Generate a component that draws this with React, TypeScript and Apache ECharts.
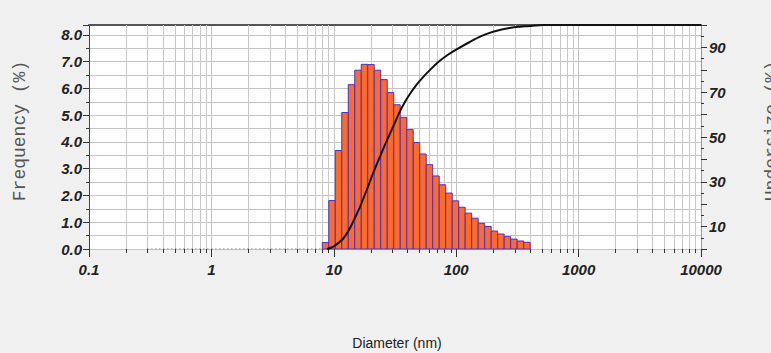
import React, { useEffect, useRef } from 'react';
import * as echarts from 'echarts';

// Histogram bin edges (nm) and frequency (%) per bin
const binEdges = [8.05, 9.1, 10.28, 11.62, 13.13, 14.83, 16.76, 18.94, 21.4, 24.18, 27.33, 30.88, 34.89, 39.43, 44.55, 50.35, 56.89, 64.29, 72.64, 82.09, 92.76, 104.8, 118.4, 133.8, 151.2, 170.9, 193.1, 218.2, 246.6, 278.6, 314.8, 355.8, 402.0];
const frequency = [0.24, 1.81, 3.68, 5.10, 6.14, 6.68, 6.90, 6.89, 6.68, 6.33, 5.85, 5.39, 4.92, 4.46, 3.98, 3.55, 3.15, 2.73, 2.40, 2.09, 1.80, 1.56, 1.34, 1.15, 0.96, 0.84, 0.67, 0.56, 0.46, 0.37, 0.30, 0.25];

// Cumulative undersize curve
const undersizeDiam = [8.8, 10, 11.9, 13.3, 14.8, 16.5, 18.4, 20.5, 22.9, 25.6, 28.5, 31.5, 34.4, 38, 41.6, 47, 53.4, 62, 73.1, 85, 100, 128, 160, 200, 272, 400, 520, 10000];
const undersizeVal = [0, 1.2, 4.6, 8.5, 13.6, 19.3, 25.8, 32.5, 39, 45.3, 51, 56.3, 61, 65.5, 69, 73, 76.6, 80.3, 83.9, 86.6, 89.0, 92.3, 95, 97, 98.7, 99.6, 100, 100];

// Dotted baseline segment (zero-frequency region)
const zeroDiam = [0.3, 8.05];
const zeroVal = [0, 0];

// Tick labels
const xTickLabels = ['0.1', '1', '10', '100', '1000', '10000'];
const xMin = 0.1;
const xMax = 10000;
const yLeftMax = 8.37;
const yRightMax = 100;

const FONT = "'Liberation Sans', Arial, sans-serif";

export default function App() {
  const ref = useRef<HTMLDivElement>(null);

  useEffect(() => {
    if (!ref.current) return;
    const chart = echarts.init(ref.current, undefined, { renderer: 'svg' });

    const minorTicks: number[][] = [];
    for (let e = -1; e < 4; e++) {
      for (let k = 2; k <= 9; k++) {
        minorTicks.push([k * Math.pow(10, e), 0]);
      }
    }

    const bars = frequency.map((f, i) => [binEdges[i], binEdges[i + 1], f]);
    const curve = undersizeDiam.map((d, i) => [d, undersizeVal[i]]);
    const zeroLine = zeroDiam.map((d, i) => [d, zeroVal[i]]);

    const labelStyle = {
      fontFamily: FONT,
      fontSize: 15,
      fontWeight: 'bold' as const,
      fontStyle: 'italic' as const,
      color: '#222',
    };

    const option: any = {
      animation: false,
      backgroundColor: '#f0f0f0',
      grid: {
        left: 89,
        right: 70,
        top: 25,
        bottom: 104,
        show: true,
        backgroundColor: '#ffffff',
        borderWidth: 0,
      },
      xAxis: [
        {
          type: 'log',
          logBase: 10,
          min: xMin,
          max: xMax,
          axisLine: { show: false },
          axisTick: { show: true, length: 8, lineStyle: { color: '#333' } },
          axisLabel: {
            ...labelStyle,
            margin: 13,
            formatter: (v: number) => {
              const e = Math.round(Math.log10(v));
              return xTickLabels[e + 1] ?? '';
            },
          },
          splitLine: { show: true, lineStyle: { color: '#c4c4c4', width: 1 } },
        },
        {
          type: 'log',
          logBase: 10,
          min: xMin,
          max: xMax,
          position: 'top',
          axisLine: { show: true, onZero: false, lineStyle: { color: '#555', width: 2 } },
          axisTick: { show: false },
          axisLabel: { show: false },
          splitLine: { show: false },
        },
      ],
      yAxis: [
        {
          type: 'value',
          min: 0,
          max: yLeftMax,
          interval: 1,
          position: 'left',
          axisLine: { show: true, lineStyle: { color: '#444' } },
          axisTick: { show: true, length: 6, lineStyle: { color: '#333' } },
          minorTick: { show: true, splitNumber: 2, length: 3, lineStyle: { color: '#333' } },
          minorSplitLine: { show: true, lineStyle: { color: '#c4c4c4' } },
          splitLine: { show: true, lineStyle: { color: '#c4c4c4' } },
          axisLabel: {
            ...labelStyle,
            margin: 7,
            formatter: (v: number) => (Number.isInteger(v) ? v.toFixed(1) : ''),
          },
        },
        {
          type: 'value',
          min: 0,
          max: yRightMax,
          interval: 10,
          position: 'right',
          axisLine: { show: true, lineStyle: { color: '#999' } },
          axisTick: { show: true, length: 6, lineStyle: { color: '#333' } },
          minorTick: { show: true, splitNumber: 2, length: 3, lineStyle: { color: '#333' } },
          splitLine: { show: false },
          axisLabel: {
            ...labelStyle,
            margin: 8,
            formatter: (v: number) => ((v / 10) % 2 === 1 ? String(v) : ''),
          },
        },
      ],
      series: [
        {
          type: 'custom',
          name: 'minorGrid',
          xAxisIndex: 0,
          yAxisIndex: 0,
          z: 1,
          clip: false,
          silent: true,
          data: minorTicks,
          encode: { x: 0, y: 1 },
          renderItem: (_p: any, api: any) => {
            const v = api.value(0);
            const top = api.coord([v, yLeftMax]);
            const bot = api.coord([v, 0]);
            const x = Math.round(bot[0]) + 0.5;
            return {
              type: 'group',
              children: [
                {
                  type: 'line',
                  shape: { x1: x, y1: top[1], x2: x, y2: bot[1] },
                  style: { stroke: '#c8c8c8', lineWidth: 1 },
                },
                {
                  type: 'line',
                  shape: { x1: x, y1: bot[1], x2: x, y2: bot[1] + 4 },
                  style: { stroke: '#333', lineWidth: 1 },
                },
              ],
            };
          },
        },
        {
          type: 'line',
          name: 'zero',
          xAxisIndex: 0,
          yAxisIndex: 0,
          z: 2,
          data: zeroLine,
          showSymbol: false,
          lineStyle: { color: '#444', width: 1, type: [1, 3] },
        },
        {
          type: 'custom',
          name: 'Frequency',
          xAxisIndex: 0,
          yAxisIndex: 0,
          z: 3,
          data: bars,
          encode: { x: [0, 1], y: 2 },
          renderItem: (_p: any, api: any) => {
            const p0 = api.coord([api.value(0), api.value(2)]);
            const p1 = api.coord([api.value(1), 0]);
            return {
              type: 'rect',
              shape: { x: p0[0], y: p0[1], width: p1[0] - p0[0], height: p1[1] - p0[1] },
              style: { fill: '#fe6a2a', stroke: '#4a30c4', lineWidth: 1 },
            };
          },
        },
        {
          type: 'line',
          name: 'Undersize',
          xAxisIndex: 0,
          yAxisIndex: 1,
          z: 4,
          data: curve,
          smooth: 0.35,
          showSymbol: false,
          lineStyle: { color: '#111', width: 2 },
        },
      ],
      graphic: [
        {
          type: 'text',
          x: 20,
          y: 131,
          rotation: Math.PI / 2,
          style: {
            text: 'Frequency (%)',
            font: "18px 'Liberation Mono', 'Courier New', monospace",
            fill: '#555',
            align: 'center',
            verticalAlign: 'middle',
          },
        },
        {
          type: 'text',
          x: 772,
          y: 131,
          rotation: Math.PI / 2,
          style: {
            text: 'Undersize (%)',
            font: "18px 'Liberation Mono', 'Courier New', monospace",
            fill: '#555',
            align: 'center',
            verticalAlign: 'middle',
          },
        },
        {
          type: 'text',
          x: 397,
          y: 343,
          style: {
            text: 'Diameter (nm)',
            font: `14px ${FONT}`,
            fill: '#222',
            align: 'center',
            verticalAlign: 'middle',
          },
        },
      ],
    };

    chart.setOption(option);
    return () => chart.dispose();
  }, []);

  return (
    <div
      ref={ref}
      style={{ position: 'fixed', left: 0, top: 0, width: 771, height: 353 }}
    />
  );
}
